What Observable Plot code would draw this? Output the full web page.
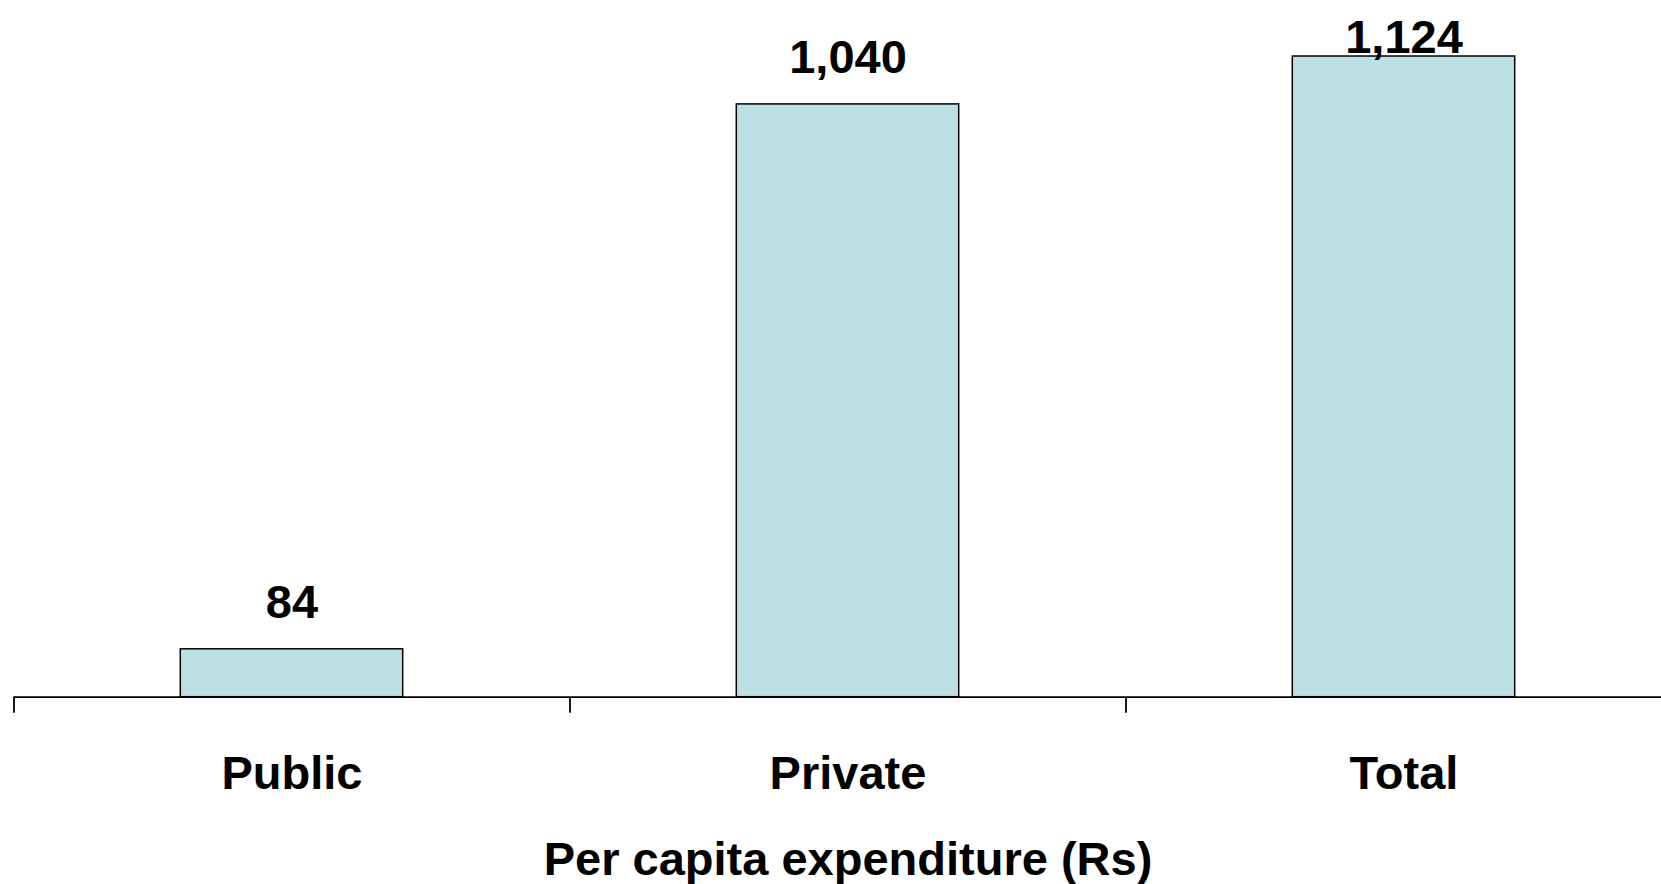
<!DOCTYPE html>
<html>
<head>
<meta charset="utf-8">
<script src="https://cdn.jsdelivr.net/npm/d3@7"></script>
<script src="https://cdn.jsdelivr.net/npm/@observablehq/plot@0.6"></script>
<style>
  html, body { margin: 0; padding: 0; background: #fff; }
  #chart svg { display: block; }
</style>
</head>
<body>
<div id="chart"></div>
<script>
const categories = ["Public", "Private", "Total"];
const values = [84, 1040, 1124];
const valueLabels = ["84", "1,040", "1,124"];
const axisTitle = "Per capita expenditure (Rs)";

const data = categories.map((c, i) => ({cat: c, value: values[i], label: valueLabels[i]}));

const W = 1661, H = 884;
const mLeft = 13.5, mRight = -20.5, mTop = 0, mBottom = 187.3;
const xRange = [mLeft, W - mRight];
const step = (xRange[1] - xRange[0]) / categories.length;
const font = "'Liberation Sans', Arial, Helvetica, sans-serif";

const chart = Plot.plot({
  width: W,
  height: H,
  marginLeft: mLeft,
  marginRight: mRight,
  marginTop: mTop,
  marginBottom: mBottom,
  style: {fontFamily: font, fontWeight: "bold", color: "#000", background: "#fff", overflow: "hidden"},
  x: {type: "band", domain: categories, range: xRange, paddingInner: 0.6, paddingOuter: 0.3, round: false, axis: null, label: null},
  y: {domain: [0, 1200], range: [H - mBottom, H - mBottom - 1200 * 0.570], axis: null, label: null},
  marks: [
    Plot.barY(data, {x: "cat", y: "value", fill: "#bcdfe4", stroke: "#000", strokeWidth: 1.5}),
    Plot.ruleY([0], {stroke: "#000", strokeWidth: 1.8}),
    Plot.axisX({tickSize: 16, tickFormat: () => "", label: null, dx: -step / 2, stroke: "#000", strokeWidth: 1.8}),
    Plot.text(data.filter(d => d.cat !== "Total"), {x: "cat", y: "value", text: "label", lineAnchor: "bottom", dy: -31, fontSize: 47, fontWeight: "bold", fill: "#000"}),
    Plot.text(data.filter(d => d.cat === "Total"), {x: "cat", y: "value", text: "label", lineAnchor: "bottom", dy: -4, fontSize: 47, fontWeight: "bold", fill: "#000"}),
    Plot.text(categories, {x: d => d, frameAnchor: "bottom", lineAnchor: "bottom", dy: 91.3, fontSize: 47, fontWeight: "bold", fill: "#000"}),
    Plot.text([axisTitle], {frameAnchor: "bottom", lineAnchor: "bottom", dy: 177.3, fontSize: 47, fontWeight: "bold", fill: "#000"})
  ]
});
document.getElementById("chart").appendChild(chart);
</script>
</body>
</html>
